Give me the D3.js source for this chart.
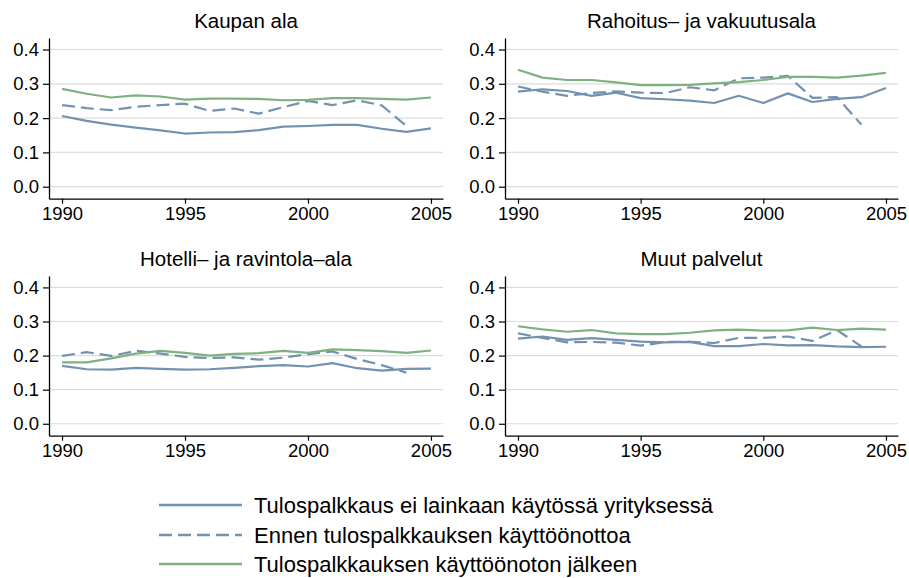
<!DOCTYPE html>
<html>
<head>
<meta charset="utf-8">
<script src="https://cdn.jsdelivr.net/npm/d3@7"></script>
<style>
  html, body { margin: 0; padding: 0; background: #fff; }
  svg { display: block; font-family: "Liberation Sans", Arial, sans-serif; }
</style>
</head>
<body>
<svg id="chart" width="909" height="578"></svg>
<script>
// Years on the horizontal axis
const years = d3.range(1990, 2006);

// Panel titles (industries)
const panelTitles = ["Kaupan ala", "Rahoitus\u2013 ja vakuutusala", "Hotelli\u2013 ja ravintola\u2013ala", "Muut palvelut"];

// Series names
const seriesNames = [
  "Tulospalkkaus ei lainkaan käytössä yrityksessä",
  "Ennen tulospalkkauksen käyttöönottoa",
  "Tulospalkkauksen käyttöönoton jälkeen"
];

// Tick values
const yTicks = [0, 0.1, 0.2, 0.3, 0.4];
const xTicks = [1990, 1995, 2000, 2005];

// Kaupan ala
const kauppaEi     = [0.206, 0.192, 0.181, 0.172, 0.164, 0.155, 0.158, 0.159, 0.165, 0.175, 0.177, 0.180, 0.180, 0.169, 0.160, 0.170];
const kauppaEnnen  = [0.238, 0.229, 0.223, 0.233, 0.238, 0.242, 0.221, 0.228, 0.213, 0.232, 0.250, 0.238, 0.252, 0.237, 0.177];
const kauppaJalkeen= [0.285, 0.271, 0.260, 0.266, 0.263, 0.254, 0.257, 0.257, 0.256, 0.252, 0.253, 0.258, 0.258, 0.256, 0.254, 0.260];

// Rahoitus- ja vakuutusala
const rahoitusEi     = [0.277, 0.284, 0.279, 0.265, 0.274, 0.258, 0.255, 0.251, 0.244, 0.265, 0.244, 0.272, 0.247, 0.256, 0.261, 0.288];
const rahoitusEnnen  = [0.292, 0.277, 0.265, 0.273, 0.278, 0.274, 0.273, 0.290, 0.281, 0.316, 0.318, 0.323, 0.259, 0.261, 0.181];
const rahoitusJalkeen= [0.341, 0.318, 0.311, 0.311, 0.304, 0.296, 0.296, 0.297, 0.301, 0.305, 0.311, 0.320, 0.320, 0.318, 0.324, 0.332];

// Hotelli- ja ravintola-ala
const hotelliEi     = [0.170, 0.160, 0.159, 0.164, 0.161, 0.159, 0.160, 0.164, 0.169, 0.172, 0.168, 0.178, 0.163, 0.156, 0.161, 0.162];
const hotelliEnnen  = [0.199, 0.210, 0.199, 0.214, 0.206, 0.196, 0.193, 0.195, 0.188, 0.194, 0.204, 0.212, 0.190, 0.172, 0.150];
const hotelliJalkeen= [0.180, 0.180, 0.192, 0.206, 0.214, 0.208, 0.200, 0.205, 0.207, 0.214, 0.208, 0.218, 0.216, 0.213, 0.208, 0.215];

// Muut palvelut
const muutEi     = [0.250, 0.256, 0.246, 0.251, 0.246, 0.241, 0.239, 0.240, 0.228, 0.228, 0.234, 0.230, 0.231, 0.227, 0.225, 0.226];
const muutEnnen  = [0.265, 0.252, 0.239, 0.240, 0.238, 0.229, 0.240, 0.240, 0.237, 0.252, 0.252, 0.256, 0.243, 0.275, 0.227];
const muutJalkeen= [0.286, 0.277, 0.270, 0.275, 0.265, 0.263, 0.263, 0.267, 0.274, 0.276, 0.273, 0.274, 0.282, 0.275, 0.279, 0.276];

const panelData = [
  [kauppaEi, kauppaEnnen, kauppaJalkeen],
  [rahoitusEi, rahoitusEnnen, rahoitusJalkeen],
  [hotelliEi, hotelliEnnen, hotelliJalkeen],
  [muutEi, muutEnnen, muutJalkeen]
];

const BLUE = "#7392b0";
const GREEN = "#7fb07f";
const seriesStyle = [
  { color: BLUE, dash: null },
  { color: BLUE, dash: "13,6" },
  { color: GREEN, dash: null }
];

const svg = d3.select("#chart");
const TICK_FONT = 18.5;
const TITLE_FONT = 20.5;
const LEGEND_FONT = 22;

// Panel frames: left edge = y-axis line, top = axis top
const frames = [
  { left: 49,  top: 38,  width: 394, height: 160.7 },
  { left: 505, top: 38,  width: 393, height: 160.7 },
  { left: 49,  top: 276, width: 394, height: 159.7 },
  { left: 505, top: 276, width: 393, height: 159.7 }
];

frames.forEach((f, i) => {
  const g = svg.append("g").attr("transform", `translate(${f.left},${f.top})`);
  const x = d3.scaleLinear().domain([1989.47, 2005.49]).range([0, f.width]);
  const y = d3.scaleLinear().domain([-0.035, 0.4335]).range([f.height, 0]);

  // gridlines
  g.append("g").selectAll("line").data(yTicks).join("line")
    .attr("x1", 0).attr("x2", f.width)
    .attr("y1", d => y(d)).attr("y2", d => y(d))
    .attr("stroke", "#dcdcdc").attr("stroke-width", 1.2);

  // series lines
  const line = d3.line().x((d, j) => x(years[j])).y(d => y(d));
  panelData[i].forEach((vals, s) => {
    g.append("path")
      .datum(vals)
      .attr("d", line)
      .attr("fill", "none")
      .attr("stroke", seriesStyle[s].color)
      .attr("stroke-width", 2.2)
      .attr("stroke-linejoin", "round")
      .attr("stroke-dasharray", seriesStyle[s].dash);
  });

  // y axis
  const yAxis = g.append("g")
    .call(d3.axisLeft(y).tickValues(yTicks).tickFormat(d3.format(".1f")).tickSize(6).tickPadding(4).tickSizeOuter(0));
  // x axis
  const xAxis = g.append("g").attr("transform", `translate(0,${f.height})`)
    .call(d3.axisBottom(x).tickValues(xTicks).tickFormat(d3.format("d")).tickSize(5).tickPadding(3).tickSizeOuter(0));

  [yAxis, xAxis].forEach(ax => {
    ax.select(".domain").attr("stroke", "#000").attr("stroke-width", 1.3);
    ax.selectAll(".tick line").attr("stroke", "#000").attr("stroke-width", 1.2);
    ax.selectAll(".tick text").attr("fill", "#000").style("font-size", TICK_FONT + "px")
      .style("font-family", "Liberation Sans, Arial, sans-serif");
  });

  // title
  svg.append("text")
    .attr("x", f.left + f.width / 2)
    .attr("y", f.top - 10)
    .attr("text-anchor", "middle")
    .style("font-size", TITLE_FONT + "px")
    .attr("fill", "#000")
    .text(panelTitles[i]);
});

// legend
const legendRows = [505, 535, 564];
const legend = svg.append("g");
seriesNames.forEach((name, s) => {
  legend.append("line")
    .attr("x1", 159).attr("x2", 242)
    .attr("y1", legendRows[s]).attr("y2", legendRows[s])
    .attr("stroke", seriesStyle[s].color)
    .attr("stroke-width", 2.4)
    .attr("stroke-dasharray", seriesStyle[s].dash);
  legend.append("text")
    .attr("x", 254).attr("y", legendRows[s])
    .attr("dominant-baseline", "central")
    .style("font-size", LEGEND_FONT + "px")
    .attr("fill", "#000")
    .text(name);
});
</script>
</body>
</html>
